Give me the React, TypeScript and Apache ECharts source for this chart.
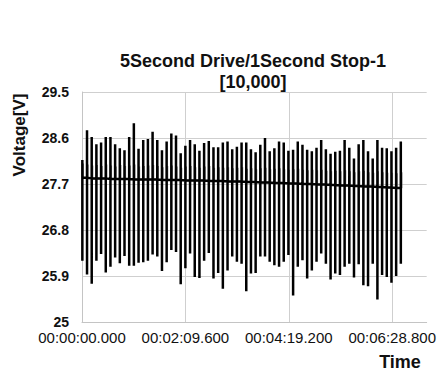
import React, { useEffect, useRef } from "react";
import * as echarts from "echarts";

// ---- data ----
const TITLE = "5Second Drive/1Second Stop-1\n[10,000]";
const Y_NAME = "Voltage[V]";
const X_NAME = "Time";
const Y_MIN = 25;
const Y_MAX = 29.5;
const Y_STEP = 0.9;
const X_MAX_SEC = 432;
const X_STEP_SEC = 129.6;
const CYCLE_SEC = 5.87; // drive + stop cycle length
const START_SEC = 0.4;

// peak voltage reached in each cycle
const peakV = [
  28.17, 28.75, 28.62, 28.48, 28.51, 28.62, 28.62, 28.48, 28.4, 28.36,
  28.62, 28.89, 28.39, 28.56, 28.58, 28.72, 28.56, 28.36, 28.53, 28.69,
  28.65, 28.3, 28.45, 28.56, 28.48, 28.35, 28.5, 28.54, 28.42, 28.42,
  28.51, 28.53, 28.38, 28.43, 28.51, 28.51, 28.38, 28.32, 28.47, 28.6,
  28.34, 28.4, 28.53, 28.51, 28.35, 28.37, 28.53, 28.47, 28.37, 28.34,
  28.41, 28.56, 28.38, 28.29, 28.33, 28.35, 28.56, 28.41, 28.2, 28.48,
  28.56, 28.34, 28.2, 28.56, 28.41, 28.4, 28.34, 28.41, 28.53,
];
// lowest voltage reached in each cycle
const lowV = [
  26.2, 25.93, 25.75, 26.2, 26.33, 25.97, 26.08, 26.26, 26.15, 26.29,
  26.1, 26.1, 26.16, 26.17, 26.2, 26.32, 26.28, 26.0, 26.17, 26.41,
  26.37, 25.74, 26.05, 26.34, 25.88, 25.86, 26.2, 26.35, 25.85, 25.96,
  25.65, 26.01, 26.28, 26.18, 26.14, 25.6, 25.95, 25.96, 26.28, 26.28,
  26.18, 26.11, 26.08, 26.18, 26.31, 25.52, 26.08, 26.21, 25.85, 26.01,
  26.18, 26.34, 26.14, 25.83, 25.95, 25.92, 26.08, 26.14, 25.87, 26.13,
  25.72, 25.7, 26.14, 25.44, 25.92, 25.88, 25.77, 25.9, 26.14,
];
// running (drive) voltage in each cycle
const baseV = [
  27.82, 27.82, 27.81, 27.81, 27.81, 27.81, 27.8, 27.8, 27.8, 27.8,
  27.8, 27.79, 27.79, 27.79, 27.79, 27.79, 27.79, 27.78, 27.78, 27.78,
  27.78, 27.78, 27.77, 27.77, 27.77, 27.77, 27.77, 27.76, 27.76, 27.76,
  27.76, 27.75, 27.75, 27.75, 27.75, 27.74, 27.74, 27.74, 27.73, 27.73,
  27.73, 27.72, 27.72, 27.72, 27.71, 27.71, 27.71, 27.7, 27.7, 27.7,
  27.69, 27.69, 27.69, 27.68, 27.68, 27.67, 27.67, 27.67, 27.66, 27.66,
  27.65, 27.65, 27.65, 27.64, 27.64, 27.63, 27.63, 27.62, 27.62,
];
// recovery voltage during the stop in each cycle
const recoverV = [
  28.1, 28.08, 28.06, 28.07, 28.05, 28.08, 28.06, 28.04, 28.07, 28.05,
  28.06, 28.08, 28.04, 28.05, 28.06, 28.07, 28.05, 28.03, 28.05, 28.06,
  28.04, 28.02, 28.04, 28.05, 28.03, 28.02, 28.04, 28.05, 28.02, 28.03,
  28.02, 28.03, 28.01, 28.02, 28.03, 28.0, 28.01, 27.99, 28.01, 28.02,
  27.99, 28.0, 28.01, 27.99, 27.98, 27.99, 28.0, 27.98, 27.97, 27.98,
  27.97, 27.98, 27.96, 27.95, 27.96, 27.95, 27.97, 27.95, 27.93, 27.95,
  27.96, 27.93, 27.92, 27.95, 27.93, 27.92, 27.92, 27.91, 27.93,
];

const FONT = "'Liberation Sans', Arial, sans-serif";

function fmtTime(sec: number): string {
  const ms = Math.round(sec * 1000);
  const h = Math.floor(ms / 3600000);
  const m = Math.floor((ms % 3600000) / 60000);
  const s = Math.floor((ms % 60000) / 1000);
  const r = ms % 1000;
  const p2 = (n: number) => String(n).padStart(2, "0");
  return `${p2(h)}:${p2(m)}:${p2(s)}.${String(r).padStart(3, "0")}`;
}

export default function App() {
  const ref = useRef<HTMLDivElement>(null);
  useEffect(() => {
    if (!ref.current) return;
    const chart = echarts.init(ref.current, undefined, { renderer: "svg" });

    const main: number[][] = [];
    const recover: number[][] = [];
    peakV.forEach((pk, i) => {
      const t = START_SEC + i * CYCLE_SEC;
      const b = baseV[i] - Y_MIN;
      main.push([t, b], [t + 0.02, pk - Y_MIN], [t + 0.04, lowV[i] - Y_MIN], [t + 0.06, b]);
      recover.push([t + 1.1, b], [t + 1.12, recoverV[i] - Y_MIN], [t + 1.14, b]);
    });

    chart.setOption({
      animation: false,
      title: {
        text: TITLE,
        left: 248,
        top: 46,
        textAlign: "center",
        textStyle: { fontFamily: FONT, fontSize: 18, fontWeight: "bold", color: "#111", lineHeight: 20.5 },
      },
      grid: { left: 82, right: 12, top: 92, bottom: 55, containLabel: false },
      xAxis: {
        type: "value",
        min: 0,
        max: X_MAX_SEC,
        interval: X_STEP_SEC,
        axisLine: { show: true, lineStyle: { color: "#c4c4c4", width: 1 } },
        axisTick: { show: false },
        splitLine: { show: true, showMaxLine: false, lineStyle: { color: "#cfcfcf", width: 1 } },
        axisLabel: {
          showMaxLabel: false,
          margin: 8,
          color: "#111",
          fontFamily: FONT,
          fontSize: 15,
          formatter: (v: number) => fmtTime(v),
        },
      },
      yAxis: {
        type: "value",
        min: 0,
        max: Y_MAX - Y_MIN,
        interval: Y_STEP,
        axisLine: { show: true, lineStyle: { color: "#c4c4c4", width: 1 } },
        axisTick: { show: false },
        splitLine: { show: true, lineStyle: { color: "#cfcfcf", width: 1 } },
        axisLabel: {
          margin: 13,
          color: "#111",
          fontFamily: FONT,
          fontSize: 14,
          fontWeight: "bold",
          formatter: (v: number) => {
            const x = v + Y_MIN;
            return Math.abs(x - Math.round(x)) < 1e-6 ? String(Math.round(x)) : x.toFixed(1);
          },
        },
      },
      graphic: [
        {
          type: "text",
          x: 19,
          y: 135,
          rotation: Math.PI / 2,
          style: {
            text: Y_NAME,
            font: `bold 17px ${FONT}`,
            fill: "#111",
            textAlign: "center",
            textVerticalAlign: "middle",
          },
        },
        {
          type: "text",
          x: 400,
          y: 362,
          style: {
            text: X_NAME,
            font: `bold 18px ${FONT}`,
            fill: "#111",
            textAlign: "center",
            textVerticalAlign: "middle",
          },
        },
      ],
      series: [
        {
          name: "recovery",
          type: "line",
          data: recover,
          showSymbol: false,
          symbol: "none",
          lineStyle: { color: "#7a7a7a", width: 1.5 },
        },
        {
          name: "Voltage",
          type: "line",
          data: main,
          showSymbol: false,
          symbol: "none",
          lineStyle: { color: "#000", width: 2.5 },
        },
      ],
    });
    return () => chart.dispose();
  }, []);

  return (
    <div
      ref={ref}
      style={{ position: "fixed", left: 0, top: 0, width: 439, height: 377, background: "#fff" }}
    />
  );
}
